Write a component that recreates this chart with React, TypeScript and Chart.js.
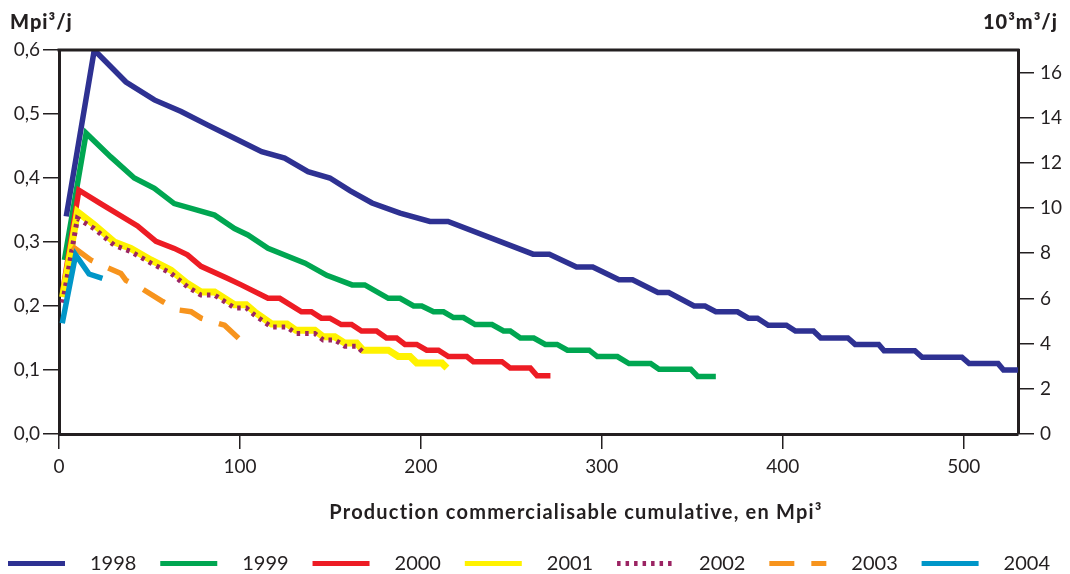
import React, { useEffect, useRef } from "react";
import { Chart, registerables } from "chart.js";

Chart.register(...registerables);

const FONT = "Lato, 'Open Sans', sans-serif";
const TEXT = "#231f20";

// ---- data ----
const seriesLabels = ["1998", "1999", "2000", "2001", "2002", "2003", "2004"];
const seriesColors = ["#2e3192", "#00a651", "#ed1c24", "#fff200", "#9b2463", "#f7941d", "#0096c8"];

const x1998 = [4, 19.5, 37, 52.7, 67.5, 82, 97, 112, 124.7, 137.6, 149.7, 161, 173, 188.5, 205, 215, 262, 271, 286, 295, 309.5, 317, 331, 337, 351, 357, 363, 375, 381, 386, 392, 402, 407, 417, 421, 436, 440, 453, 456, 473, 477, 499, 503, 519, 522, 530];
const y1998 = [0.34, 0.6, 0.55, 0.522, 0.504, 0.483, 0.462, 0.441, 0.431, 0.41, 0.4, 0.38, 0.361, 0.345, 0.332, 0.332, 0.281, 0.281, 0.261, 0.261, 0.241, 0.241, 0.221, 0.221, 0.2, 0.2, 0.191, 0.191, 0.181, 0.181, 0.17, 0.17, 0.161, 0.161, 0.15, 0.15, 0.14, 0.14, 0.13, 0.13, 0.12, 0.12, 0.11, 0.11, 0.1, 0.1];

const x1999 = [3, 15, 28.6, 41.6, 52.7, 63.7, 75, 86, 97, 104.4, 115.5, 136, 148, 162, 169, 182, 188.5, 196, 200.5, 207, 212.5, 218, 223.5, 230, 239.3, 245.7, 249.4, 255, 262.4, 268.8, 275.3, 281, 293, 297.5, 308.6, 315, 327, 331.6, 349.2, 353, 363];
const y1999 = [0.272, 0.47, 0.433, 0.4, 0.384, 0.36, 0.351, 0.342, 0.321, 0.311, 0.29, 0.267, 0.248, 0.233, 0.233, 0.212, 0.212, 0.2, 0.2, 0.191, 0.191, 0.182, 0.182, 0.171, 0.171, 0.161, 0.161, 0.15, 0.15, 0.14, 0.14, 0.131, 0.131, 0.121, 0.121, 0.11, 0.11, 0.101, 0.101, 0.09, 0.09];

const x2000 = [2, 11, 23, 43.4, 53.6, 63.7, 71, 78.5, 93.3, 100.7, 115.5, 122, 134, 139.5, 145, 149.7, 156, 161.7, 167.2, 175.5, 181, 186.6, 191.2, 197.7, 203.2, 209.7, 215.2, 225.4, 229, 244.8, 249.4, 260.5, 264.2, 271.6];
const y2000 = [0.222, 0.381, 0.36, 0.325, 0.301, 0.29, 0.28, 0.262, 0.243, 0.233, 0.212, 0.212, 0.191, 0.191, 0.181, 0.181, 0.171, 0.171, 0.161, 0.161, 0.15, 0.15, 0.14, 0.14, 0.131, 0.131, 0.121, 0.121, 0.113, 0.113, 0.103, 0.103, 0.091, 0.091];

const x2001 = [2, 10.2, 19.4, 30.5, 39.7, 50.8, 61.9, 71, 78.5, 86, 97, 103.5, 108, 117.5, 126, 131, 141.4, 146, 152.4, 158, 164.5, 168, 182, 187.5, 194, 197.7, 211.6, 214.4];
const y2001 = [0.214, 0.347, 0.327, 0.3, 0.29, 0.272, 0.256, 0.235, 0.222, 0.222, 0.202, 0.202, 0.191, 0.172, 0.172, 0.162, 0.162, 0.152, 0.152, 0.142, 0.142, 0.131, 0.131, 0.121, 0.121, 0.111, 0.111, 0.103];

const x2002 = [2, 10.2, 19.4, 30.5, 39.7, 50.8, 61.9, 71, 78.5, 86, 97, 103.5, 108, 117.5, 126, 131, 141.4, 146, 152.4, 158, 164.5, 168];
const y2002 = [0.205, 0.337, 0.321, 0.295, 0.285, 0.267, 0.251, 0.23, 0.217, 0.217, 0.197, 0.197, 0.186, 0.167, 0.167, 0.157, 0.157, 0.147, 0.147, 0.137, 0.137, 0.128];

const x2003 = [7.4, 17.5, 25.9, 34.2, 37, 45.3, 57.3, 65.6, 73, 78.5, 87.8, 91.5, 99.5];
const y2003 = [0.293, 0.272, 0.261, 0.251, 0.24, 0.228, 0.207, 0.194, 0.191, 0.181, 0.173, 0.17, 0.149];

const x2004 = [1.8, 9.2, 16.6, 24];
const y2004 = [0.173, 0.28, 0.25, 0.243];

const seriesX = [x1998, x1999, x2000, x2001, x2002, x2003, x2004];
const seriesY = [y1998, y1999, y2000, y2001, y2002, y2003, y2004];
const seriesWidths = [5.5, 5.5, 5.5, 7, 5, 5.5, 5.5];
const seriesDashes: number[][] = [[], [], [], [], [3.5, 5], [25, 17], []];

const xTicks = [0, 100, 200, 300, 400, 500];
const leftTicks = [0, 0.1, 0.2, 0.3, 0.4, 0.5, 0.6];
const rightTicks = [0, 2, 4, 6, 8, 10, 12, 14, 16];

const X_MAX = 530;
const LEFT_MAX = 0.6;
const MPI3_TO_KM3 = 28.3168; // 1 Mpi³ = 28.3168 10³m³
const RIGHT_MAX = LEFT_MAX * MPI3_TO_KM3;

const leftTitle = "Mpi³/j";
const rightTitle = "10³m³/j";
const xTitle = "Production commercialisable cumulative, en Mpi³";

const setSpacing = (ctx: any, v: string) => {
  if ("letterSpacing" in ctx) ctx.letterSpacing = v;
};

const decorPlugin = {
  id: "decor",
  afterDraw(chart: any) {
    const { ctx, chartArea: ca, width } = chart;
    ctx.save();
    // top frame line
    ctx.strokeStyle = TEXT;
    ctx.lineWidth = 3;
    ctx.beginPath();
    ctx.moveTo(ca.left - 1.5, ca.top);
    ctx.lineTo(ca.right + 1.5, ca.top);
    ctx.stroke();

    // axis titles
    ctx.fillStyle = TEXT;
    ctx.textBaseline = "alphabetic";
    ctx.font = `900 20px ${FONT}`;
    setSpacing(ctx, "1px");
    ctx.textAlign = "left";
    ctx.fillText(leftTitle, 10, 29);
    ctx.textAlign = "right";
    ctx.fillText(rightTitle, width - 12, 29);

    ctx.textAlign = "center";
    ctx.font = `bold 20px ${FONT}`;
    setSpacing(ctx, "1.2px");
    ctx.fillText(xTitle, 576, 519);
    setSpacing(ctx, "0px");

    // legend
    const ds = chart.data.datasets;
    const lineLen = 57;
    const gap = 25;
    const legendLeft = 8;
    const legendRight = width - 20;
    const legendY = 563.5;
    ctx.font = `20px ${FONT}`;
    const textW = ds.map((d: any) => ctx.measureText(d.label).width);
    const total = textW.reduce((a: number, w: number) => a + w + lineLen + gap, 0);
    const spacing = (legendRight - legendLeft - total) / (ds.length - 1);
    let x = legendLeft;
    ds.forEach((d: any, i: number) => {
      ctx.beginPath();
      ctx.setLineDash(d.borderDash || []);
      ctx.lineCap = "butt";
      ctx.lineWidth = 5;
      ctx.strokeStyle = d.borderColor;
      ctx.moveTo(x, legendY);
      ctx.lineTo(x + lineLen, legendY);
      ctx.stroke();
      ctx.setLineDash([]);
      ctx.fillStyle = TEXT;
      ctx.textAlign = "left";
      ctx.textBaseline = "middle";
      ctx.fillText(d.label, x + lineLen + gap, legendY);
      x += lineLen + gap + textW[i] + spacing;
    });
    ctx.restore();
  },
};

const fmtComma = (v: number) => v.toFixed(1).replace(".", ",");

export default function App() {
  const canvasRef = useRef<HTMLCanvasElement | null>(null);

  useEffect(() => {
    document.body.style.margin = "0";
    const canvas = canvasRef.current;
    if (!canvas) return;

    const datasets = seriesLabels.map((label, i) => ({
      label,
      data: seriesX[i].map((xv, j) => ({ x: xv, y: seriesY[i][j] })),
      borderColor: seriesColors[i],
      backgroundColor: seriesColors[i],
      borderWidth: seriesWidths[i],
      borderDash: seriesDashes[i],
      pointRadius: 0,
      tension: 0,
      fill: false,
      order: seriesLabels.length - i,
      yAxisID: "y",
    }));

    const tickFont = { family: FONT, size: 19 };

    const chart = new Chart(canvas, {
      type: "line",
      data: { datasets },
      options: {
        animation: false,
        responsive: false,
        devicePixelRatio: 1,
        layout: { padding: { top: 50, left: 0, right: 0, bottom: 0 } },
        plugins: { legend: { display: false }, tooltip: { enabled: false }, title: { display: false } },
        scales: {
          x: {
            type: "linear",
            position: "bottom",
            min: 0,
            max: X_MAX,
            afterFit: (s: any) => { s.height = 140; },
            afterBuildTicks: (s: any) => { s.ticks = xTicks.map((v) => ({ value: v })); },
            grid: { drawOnChartArea: false, drawTicks: true, tickLength: 15, color: TEXT, lineWidth: 1.5 },
            border: { display: true, color: TEXT, width: 3 },
            ticks: { color: TEXT, font: tickFont, padding: 6, maxRotation: 0, autoSkip: false },
          },
          y: {
            type: "linear",
            position: "left",
            min: 0,
            max: LEFT_MAX,
            afterFit: (s: any) => { s.width = 59; },
            afterBuildTicks: (s: any) => { s.ticks = leftTicks.map((v) => ({ value: v })); },
            grid: { drawOnChartArea: false, drawTicks: true, tickLength: 16, color: TEXT, lineWidth: 1.5 },
            border: { display: true, color: TEXT, width: 3 },
            ticks: { color: TEXT, font: tickFont, padding: 3, callback: (v: any) => fmtComma(Number(v)) },
          },
          y1: {
            type: "linear",
            position: "right",
            min: 0,
            max: RIGHT_MAX,
            afterFit: (s: any) => { s.width = 52; },
            afterBuildTicks: (s: any) => { s.ticks = rightTicks.map((v) => ({ value: v })); },
            grid: { drawOnChartArea: false, drawTicks: true, tickLength: 16, color: TEXT, lineWidth: 1.5 },
            border: { display: true, color: TEXT, width: 3 },
            ticks: { color: TEXT, font: tickFont, padding: 6, callback: (v: any) => String(v) },
          },
        },
      },
      plugins: [decorPlugin],
    } as any);

    return () => chart.destroy();
  }, []);

  return (
    <div style={{ width: 1070, height: 574, position: "relative", background: "#fff" }}>
      <canvas ref={canvasRef} width={1070} height={574} style={{ display: "block" }} />
    </div>
  );
}
